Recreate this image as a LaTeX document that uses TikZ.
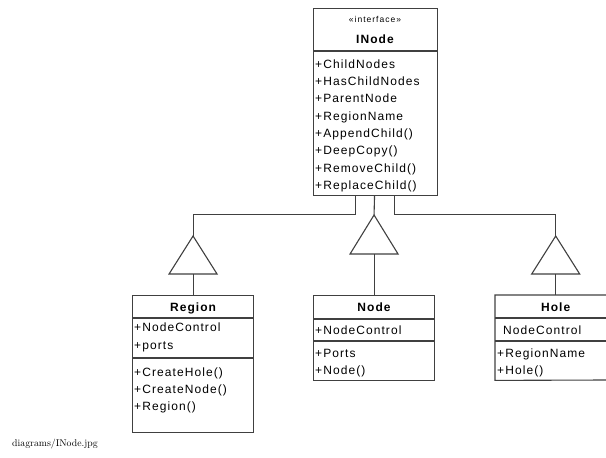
\documentclass[tikz,border=0pt]{standalone}
\usepackage{fontspec}
\newfontfamily\umlfont[LetterSpace=9]{Liberation Sans}
\newfontfamily\stereofont[LetterSpace=12]{Liberation Sans}
\usetikzlibrary{calc}

\definecolor{linegray}{RGB}{64,64,64}

\tikzset{
  umlline/.style={draw=linegray, line width=1.1pt},
  classbox/.style={umlline, fill=white, anchor=north west, inner sep=0pt},
  member/.style={anchor=base west, inner sep=0pt, text=black,
    font=\umlfont\fontsize{12}{14}\selectfont},
  classname/.style={anchor=base, inner sep=0pt, text=black,
    font=\umlfont\bfseries\fontsize{12}{14}\selectfont},
  stereo/.style={anchor=base, inner sep=0pt, text=black,
    font=\stereofont\fontsize{8.5}{10}\selectfont},
  gen/.style={umlline, fill=white, line join=miter},
}

\begin{document}
\begin{tikzpicture}[x=1pt, y=-1pt]
  \useasboundingbox (0,0) rectangle (606,458);

  % ---------- interface INode ----------
  \node[classbox, minimum width=124pt, minimum height=187pt] (inode) at (313,8) {};
  \draw[umlline] (inode.west |- 0,51) -- (inode.east |- 0,51);
  \node[stereo] (inode-st) at (375,22) {«interface»};
  \node[classname] (inode-name) at (375,43.5) {INode};
  \foreach \m [count=\i from 0] in {+ChildNodes,+HasChildNodes,+ParentNode,+RegionName,
      +AppendChild(),+DeepCopy(),+RemoveChild(),+ReplaceChild()}
    \node[member] (inode-m\i) at (315,68.3+17.3*\i) {\m};

  % ---------- class Region ----------
  \node[classbox, minimum width=121pt, minimum height=137pt] (region) at (132,295) {};
  \draw[umlline] (region.west |- 0,318) -- (region.east |- 0,318);
  \draw[umlline] (region.west |- 0,358) -- (region.east |- 0,358);
  \node[classname] (region-name) at (region.north |- 0,311.5) {Region};
  \node[member] (region-a1) at (134,331.5) {+NodeControl};
  \node[member] (region-a2) at (134,349.5) {+ports};
  \node[member] (region-o1) at (134,376) {+CreateHole()};
  \node[member] (region-o2) at (134,393) {+CreateNode()};
  \node[member] (region-o3) at (134,410) {+Region()};

  % ---------- class Node ----------
  \node[classbox, minimum width=121pt, minimum height=85pt] (node) at (313,295) {};
  \draw[umlline] (node.west |- 0,319) -- (node.east |- 0,319);
  \draw[umlline] (node.west |- 0,341) -- (node.east |- 0,341);
  \node[classname] (node-name) at (node.north |- 0,311.5) {Node};
  \node[member] (node-a1) at (315,334.5) {+NodeControl};
  \node[member] (node-o1) at (315,357) {+Ports};
  \node[member] (node-o2) at (315,374.5) {+Node()};

  % ---------- class Hole (cut off by the right edge) ----------
  \node[anchor=north west, inner sep=0pt, minimum width=121pt, minimum height=85pt]
    (hole) at (495,295) {};
  \draw[umlline] (606,295) -| (hole.south west) -- (606,380);
  \draw[umlline] (hole.west |- 0,318) -- (606,318);
  \draw[umlline] (hole.west |- 0,341) -- (606,341);
  \node[classname] (hole-name) at (hole.north |- 0,311.5) {Hole};
  \node[member] (hole-a1) at (503,334.5) {NodeControl};
  \node[member] (hole-o1) at (497,357) {+RegionName};
  \node[member] (hole-o2) at (497,374.5) {+Hole()};

  % ---------- generalization connectors ----------
  \coordinate (jl) at ($(inode.south)+(-20,0)$);
  \coordinate (jm) at ($(inode.south)+(-1,0)$);
  \coordinate (jr) at ($(inode.south)+(19,0)$);
  \coordinate (bendl) at (region.north |- 0,214.5);
  \coordinate (bendr) at (hole.north |- 0,214.5);
  \coordinate (apexl) at (region.north |- 0,236);
  \coordinate (apexm) at (node.north |- 0,215);
  \coordinate (apexr) at (hole.north |- 0,236);

  \draw[umlline] (jl) |- (bendl) -- (apexl);
  \draw[umlline] (jm) -- (apexm);
  \draw[umlline] (jr) |- (bendr) -- (apexr);

  \draw[gen] (apexl) -- ++(-24,38) -- ++(48,0) -- cycle;
  \draw[gen] (apexm) -- ++(-24,39) -- ++(48,0) -- cycle;
  \draw[gen] (apexr) -- ++(-24,38) -- ++(48,0) -- cycle;

  \draw[umlline] ($(apexl)+(0,38)$) -- (region.north);
  \draw[umlline] ($(apexm)+(0,39)$) -- (node.north);
  \draw[umlline] ($(apexr)+(0,38)$) -- (hole.north);

  % ---------- file caption ----------
  \node[anchor=base west, inner sep=0pt, font=\fontsize{9.8}{12}\selectfont]
    (caption) at (12,446.5) {diagrams/INode.jpg};
\end{tikzpicture}
\end{document}
